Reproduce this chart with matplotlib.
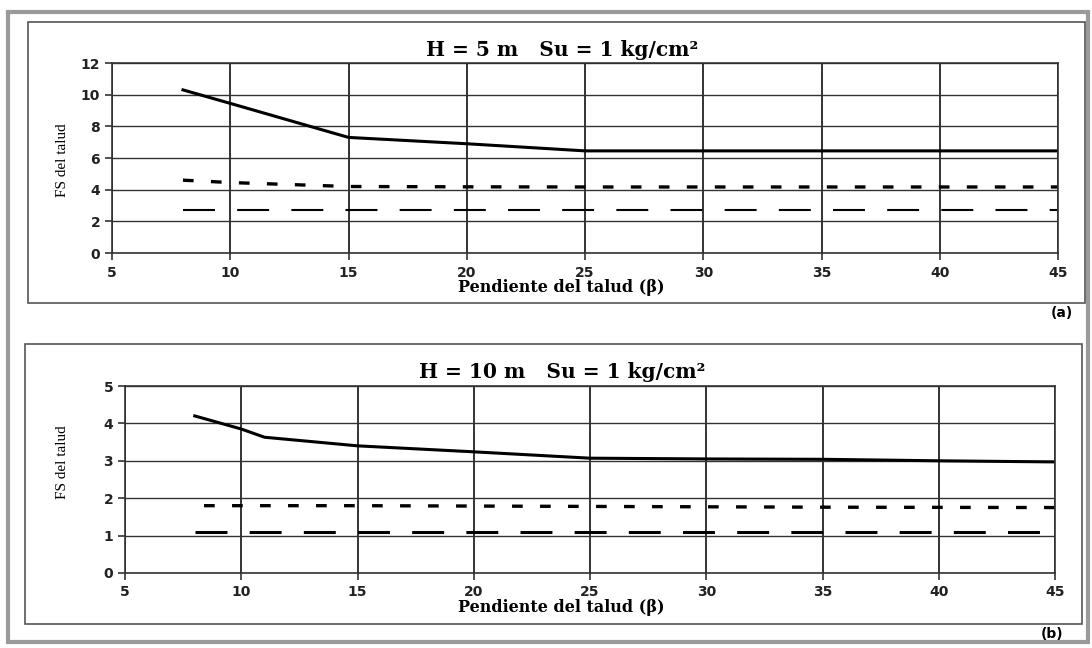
import matplotlib.pyplot as plt
from matplotlib.patches import Rectangle

# (a) H = 5 m
x_a_solid = [8, 10, 15, 20, 25, 30, 35, 40, 45]
fs_a_solid = [10.3, 9.45, 7.3, 6.9, 6.45, 6.45, 6.45, 6.45, 6.45]
x_a_short = [8, 10, 15, 20, 25, 30, 35, 40, 45]
fs_a_short = [4.6, 4.45, 4.2, 4.18, 4.17, 4.17, 4.17, 4.17, 4.17]
x_a_long = [8, 45]
fs_a_long = [2.72, 2.72]

# (b) H = 10 m
x_b_solid = [8, 10, 11, 15, 20, 25, 30, 35, 40, 45]
fs_b_solid = [4.2, 3.85, 3.63, 3.4, 3.24, 3.07, 3.05, 3.04, 3.0, 2.97]
x_b_short = [8.4, 15, 25, 35, 45]
fs_b_short = [1.8, 1.8, 1.78, 1.76, 1.75]
x_b_long = [8, 45]
fs_b_long = [1.1, 1.1]

xticks = [5, 10, 15, 20, 25, 30, 35, 40, 45]

fig = plt.figure(figsize=(10.92, 6.48), dpi=100)
W, H = 1092, 648


def px_rect(x0, y0, x1, y1, **kw):
    fig.patches.append(Rectangle((x0 / W, 1 - y1 / H), (x1 - x0) / W, (y1 - y0) / H,
                                 transform=fig.transFigure, fill=False, **kw))


# outer frame and panel boxes
px_rect(8, 12, 1088, 642, edgecolor='#9a9a9a', linewidth=3)
px_rect(28, 22, 1085, 303, edgecolor='#555555', linewidth=1.2)
px_rect(25, 344, 1082, 624, edgecolor='#555555', linewidth=1.2)

serif = 'DejaVu Serif'
grid_c = '#333333'


def make_panel(rect, ylim, yticks, title, title_y, xlabel_y, ylabel_x, ylabel_y,
               lines, long_lw, tag, tag_xy):
    ax = fig.add_axes(rect)
    ax.set_xlim(5, 45)
    ax.set_ylim(*ylim)
    ax.set_xticks(xticks)
    ax.set_yticks(yticks)
    ax.grid(True, axis='y', color=grid_c, linewidth=1.0)
    ax.grid(True, axis='x', color=grid_c, linewidth=1.4)
    for s in ax.spines.values():
        s.set_color(grid_c)
        s.set_linewidth(1.2)
    ax.tick_params(axis='both', colors=grid_c, length=5, width=1.2, labelcolor='#222222')
    for lab in ax.get_xticklabels() + ax.get_yticklabels():
        lab.set_fontsize(10)
        lab.set_fontweight('bold')
    ax.tick_params(axis='x', pad=4)

    (xa, ya), (xb, yb), (xc, yc) = lines
    ax.plot(xa, ya, color='black', linewidth=2.2, solid_joinstyle='round')
    ax.plot(xb, yb, color='black', linewidth=2.4, linestyle=(0, (3.2, 5.2)))
    ax.plot(xc, yc, color='black', linewidth=long_lw,
            linestyle=(0, (23 / long_lw, 16 / long_lw)))

    fig.text(562 / W, title_y, title, family=serif, fontweight='bold', fontsize=14.5,
             ha='center', va='center')
    fig.text(561 / W, xlabel_y, 'Pendiente del talud (β)', family=serif,
             fontweight='bold', fontsize=11.5, ha='center', va='center')
    fig.text(ylabel_x, ylabel_y, 'FS del talud', family='Liberation Serif', fontsize=11,
             rotation=90, ha='center', va='center')
    fig.text(tag_xy[0], tag_xy[1], tag, fontsize=10, fontweight='bold',
             ha='center', va='center')
    return ax


make_panel([112 / W, 1 - 253 / H, (1058 - 112) / W, (253 - 63) / H],
           (0, 12), [0, 2, 4, 6, 8, 10, 12],
           'H = 5 m   Su = 1 kg/cm²', 1 - 50 / H, 1 - 288 / H,
           62 / W, 1 - 160 / H,
           [(x_a_solid, fs_a_solid), (x_a_short, fs_a_short), (x_a_long, fs_a_long)],
           1.5, '(a)', (1062 / W, 1 - 313 / H))

make_panel([125 / W, 1 - 573 / H, (1055 - 125) / W, (573 - 386) / H],
           (0, 5), [0, 1, 2, 3, 4, 5],
           'H = 10 m   Su = 1 kg/cm²', 1 - 372 / H, 1 - 608 / H,
           62 / W, 1 - 462 / H,
           [(x_b_solid, fs_b_solid), (x_b_short, fs_b_short), (x_b_long, fs_b_long)],
           2.2, '(b)', (1052 / W, 1 - 634 / H))

fig.savefig('out.png', dpi=100)
